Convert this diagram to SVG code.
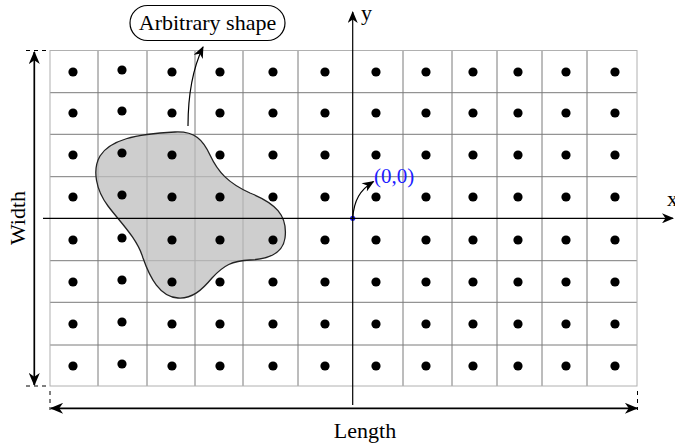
<svg xmlns="http://www.w3.org/2000/svg" width="675" height="443" viewBox="0 0 675 443">
<defs>
<style>
.grid{stroke:#7a7a7a;stroke-width:1;fill:none}
.border{stroke:#b0b0b0;stroke-width:1;fill:none}
.dot{fill:#000}
.ax{stroke:#000;stroke-width:1.2;fill:none}
.dim{stroke:#000;stroke-width:1.7;fill:none}
.dash{stroke:#000;stroke-width:1;stroke-dasharray:4,4;fill:none}
.t{font-family:"Liberation Serif","Times New Roman",serif;font-size:22px;fill:#000}
</style>
<marker id="ah" viewBox="0 0 12 10" refX="11" refY="5" markerWidth="13" markerHeight="10" markerUnits="userSpaceOnUse" orient="auto">
<path d="M0,0 L12,5 L0,10 L3.5,5 Z" fill="#000"/>
</marker>
<marker id="ahs" viewBox="0 0 12 10" refX="11" refY="5" markerWidth="16" markerHeight="11" markerUnits="userSpaceOnUse" orient="auto-start-reverse">
<path d="M0,0 L12,5 L0,10 L3.5,5 Z" fill="#000"/>
</marker>
</defs>
<rect width="675" height="443" fill="#fff"/>
<g id="grid">
<path class="grid" d="M98,50.5V386M147,50.5V386M195,50.5V386M243,50.5V386M298,50.5V386M403,50.5V386M452,50.5V386M497,50.5V386M542,50.5V386M587,50.5V386M50,92.7H637M50,134.3H637M50,176.7H637M50,260.7H637M50,302.3H637M50,345H637"/>
<rect class="border" x="50" y="50.5" width="587" height="335.5"/>
</g>
<g id="shape">
<path d="M100,156 C110,140 135,134 175,132 C195,131 203,140 210,155 C218,172 228,183 250,193 C275,203 288,215 285,238 C283,252 272,259 250,260 C232,261 224,265 212,278 C202,290 192,299 178,298 C160,297 150,278 143,258 C137,238 120,222 108,206 C96,190 92,170 100,156 Z" fill="#bdbdbd" fill-opacity="0.75" stroke="#222" stroke-width="1.3"/>
</g>
<g id="dots">
<g class="dot">
<circle cx="73" cy="72" r="4.6"/><circle cx="122" cy="70" r="4.6"/><circle cx="172" cy="72" r="4.6"/><circle cx="220" cy="72" r="4.6"/><circle cx="273" cy="72" r="4.6"/><circle cx="325" cy="72" r="4.6"/><circle cx="376" cy="72" r="4.6"/><circle cx="426" cy="72" r="4.6"/><circle cx="473" cy="72" r="4.6"/><circle cx="518" cy="72" r="4.6"/><circle cx="566" cy="72" r="4.6"/><circle cx="615" cy="72" r="4.6"/>
<circle cx="73" cy="113" r="4.6"/><circle cx="122" cy="111" r="4.6"/><circle cx="172" cy="113" r="4.6"/><circle cx="220" cy="113" r="4.6"/><circle cx="273" cy="113" r="4.6"/><circle cx="325" cy="113" r="4.6"/><circle cx="376" cy="113" r="4.6"/><circle cx="426" cy="113" r="4.6"/><circle cx="473" cy="113" r="4.6"/><circle cx="518" cy="113" r="4.6"/><circle cx="566" cy="113" r="4.6"/><circle cx="615" cy="113" r="4.6"/>
<circle cx="73" cy="155" r="4.6"/><circle cx="122" cy="153" r="4.6"/><circle cx="172" cy="155" r="4.6"/><circle cx="220" cy="155" r="4.6"/><circle cx="273" cy="155" r="4.6"/><circle cx="325" cy="155" r="4.6"/><circle cx="376" cy="155" r="4.6"/><circle cx="426" cy="155" r="4.6"/><circle cx="473" cy="155" r="4.6"/><circle cx="518" cy="155" r="4.6"/><circle cx="566" cy="155" r="4.6"/><circle cx="615" cy="155" r="4.6"/>
<circle cx="73" cy="197" r="4.6"/><circle cx="122" cy="195" r="4.6"/><circle cx="172" cy="197" r="4.6"/><circle cx="220" cy="197" r="4.6"/><circle cx="273" cy="197" r="4.6"/><circle cx="325" cy="197" r="4.6"/><circle cx="376" cy="197" r="4.6"/><circle cx="426" cy="197" r="4.6"/><circle cx="473" cy="197" r="4.6"/><circle cx="518" cy="197" r="4.6"/><circle cx="566" cy="197" r="4.6"/><circle cx="615" cy="197" r="4.6"/>
<circle cx="73" cy="240" r="4.6"/><circle cx="122" cy="238" r="4.6"/><circle cx="172" cy="240" r="4.6"/><circle cx="220" cy="240" r="4.6"/><circle cx="273" cy="240" r="4.6"/><circle cx="325" cy="240" r="4.6"/><circle cx="376" cy="240" r="4.6"/><circle cx="426" cy="240" r="4.6"/><circle cx="473" cy="240" r="4.6"/><circle cx="518" cy="240" r="4.6"/><circle cx="566" cy="240" r="4.6"/><circle cx="615" cy="240" r="4.6"/>
<circle cx="73" cy="282" r="4.6"/><circle cx="122" cy="280" r="4.6"/><circle cx="172" cy="282" r="4.6"/><circle cx="220" cy="282" r="4.6"/><circle cx="273" cy="282" r="4.6"/><circle cx="325" cy="282" r="4.6"/><circle cx="376" cy="282" r="4.6"/><circle cx="426" cy="282" r="4.6"/><circle cx="473" cy="282" r="4.6"/><circle cx="518" cy="282" r="4.6"/><circle cx="566" cy="282" r="4.6"/><circle cx="615" cy="282" r="4.6"/>
<circle cx="73" cy="324" r="4.6"/><circle cx="122" cy="322" r="4.6"/><circle cx="172" cy="324" r="4.6"/><circle cx="220" cy="324" r="4.6"/><circle cx="273" cy="324" r="4.6"/><circle cx="325" cy="324" r="4.6"/><circle cx="376" cy="324" r="4.6"/><circle cx="426" cy="324" r="4.6"/><circle cx="473" cy="324" r="4.6"/><circle cx="518" cy="324" r="4.6"/><circle cx="566" cy="324" r="4.6"/><circle cx="615" cy="324" r="4.6"/>
<circle cx="73" cy="366" r="4.6"/><circle cx="122" cy="364" r="4.6"/><circle cx="172" cy="366" r="4.6"/><circle cx="220" cy="366" r="4.6"/><circle cx="273" cy="366" r="4.6"/><circle cx="325" cy="366" r="4.6"/><circle cx="376" cy="366" r="4.6"/><circle cx="426" cy="366" r="4.6"/><circle cx="473" cy="366" r="4.6"/><circle cx="518" cy="366" r="4.6"/><circle cx="566" cy="366" r="4.6"/><circle cx="615" cy="366" r="4.6"/>
</g>
</g>
<g id="label-box">
<rect x="130" y="5.5" width="155" height="35" rx="17.5" fill="#fff" stroke="#000" stroke-width="1.2"/>
<text class="t" x="207.5" y="30" text-anchor="middle">Arbitrary shape</text>
</g>
<g id="origin">
<circle cx="352.7" cy="218.3" r="2.6" fill="#1c1cff"/>
<text x="374" y="183" font-family="Liberation Serif, serif" font-size="21" fill="#1c1cff">(0,0)</text>
</g>
<g id="connectors">
<path class="ax" d="M43,218.3 H673" marker-end="url(#ah)"/>
<path class="ax" d="M352.7,405 V12" marker-end="url(#ah)"/>
<path class="ax" d="M188,126 C188,95 193,68 203,47" marker-end="url(#ah)"/>
<path class="ax" d="M352.7,218.3 C354,200 360,190 373.5,181.5" marker-end="url(#ah)"/>
<path class="dim" d="M34.3,52 V385" marker-start="url(#ahs)" marker-end="url(#ahs)"/>
<path class="dim" d="M51,408.3 H637" marker-start="url(#ahs)" marker-end="url(#ahs)"/>
<path class="dash" d="M26,50.5 H50 M26,386 H50 M50,391 V410 M637.5,391 V410"/>
</g>
<g id="labels">
<text class="t" x="361" y="20">y</text>
<text class="t" x="667" y="206">x</text>
<text class="t" x="365" y="438" text-anchor="middle">Length</text>
<text class="t" transform="translate(25,218) rotate(-90)" text-anchor="middle">Width</text>
</g>
</svg>
